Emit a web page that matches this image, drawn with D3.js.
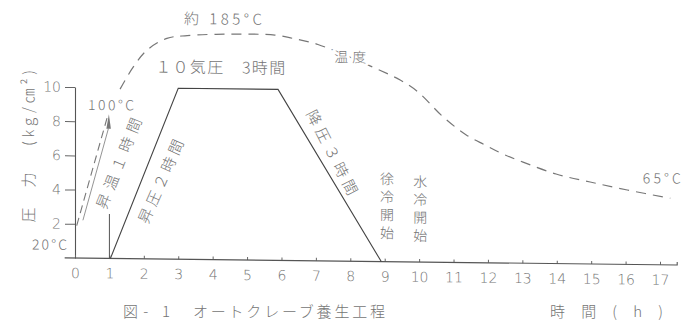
<!DOCTYPE html>
<html>
<head>
<meta charset="utf-8">
<script src="https://cdn.jsdelivr.net/npm/d3@7"></script>
<style>
  html, body { margin: 0; padding: 0; background: #fff; }
  svg { display: block; }
  text { font-family: "Noto Sans CJK JP", "Noto Sans", sans-serif; fill: #747474; font-weight: 300; }
</style>
</head>
<body>
<svg id="chart" width="692" height="323"></svg>
<script>
// time axis (hours)
const hourTicks = d3.range(0, 18);
// pressure axis ticks (kg/cm2)
const pressureTicks = [2, 4, 6, 8, 10];
// autoclave pressure schedule: [hour, kg/cm2]
const pressureSchedule = [[1.03, 0], [3, 10], [5.9, 10], [8.9, 0]];
// short marker where pressurisation begins: [hour, kg/cm2]
const startMarker = [[1, 0], [1, 2.6]];
// temperature rise in the first hour: [hour, °C]
const heatingRise = [[0.05, 20], [0.93, 100]];
// solid guide beside the rise, ending in an arrow: [hour, °C]
const heatingGuide = [[0.23, 27], [0.97, 95]];
// temperature course after the rise: [hour, °C]
const temperatureCourse = [
  [1.31, 129], [1.69, 151], [2.09, 168], [2.67, 180], [3.26, 183], [4.5, 185],
  [5.81, 184.5], [6.31, 181.6], [7.06, 175.7], [8.81, 151.5], [9.45, 141.3],
  [9.97, 129.6], [10.70, 105.1], [11.37, 94], [11.92, 89.3], [12.44, 85.1],
  [13.02, 81.4], [13.98, 75.9], [14.97, 72.3], [16.05, 68.7], [17.3, 65]
];
// labelled temperatures (°C) and the height each sits at on the pressure axis
const tempMarks = [20, 65, 100, 185];
const tempLevels = [1.9, 3.9, 8.2, 13.2];

const svg = d3.select("#chart");

const x = d3.scaleLinear().domain([0, 17]).range([75, 660]);
const y = d3.scaleLinear().domain([0, 10]).range([258, 87]);
// temperature is drawn schematically, pinned at the labelled values
const tY = d3.scaleLinear().domain(tempMarks).range(tempLevels.map(y));

// the drawing's baseline runs slightly downhill to the right
const g = svg.append("g")
  .attr("transform", `translate(${x(0)},${y(0)}) skewY(0.67) translate(${-x(0)},${-y(0)})`);

// ---- axes ----
const yAxis = g.append("g")
  .attr("transform", `translate(${x(0)},0)`)
  .call(d3.axisLeft(y).tickValues(pressureTicks).tickSize(10).tickSizeOuter(0).tickPadding(4));
yAxis.select(".domain").attr("stroke", "#555").attr("stroke-width", 1.1);
yAxis.selectAll(".tick line").attr("stroke", "#666");
yAxis.selectAll(".tick text").attr("font-size", 14).attr("fill", "#7a7a7a")
  .style("font-family", "'DejaVu Sans', sans-serif").style("font-weight", 300);

const xAxis = g.append("g")
  .attr("transform", `translate(0,${y(0)})`)
  .call(d3.axisBottom(x).tickValues(hourTicks).tickSize(-3).tickPadding(10));
xAxis.select(".domain").remove();
xAxis.selectAll(".tick line").attr("stroke", "#666");
xAxis.selectAll(".tick text").attr("font-size", 14).attr("fill", "#7a7a7a")
  .style("font-family", "'DejaVu Sans', sans-serif").style("font-weight", 300);
g.append("path")
  .attr("d", `M${x(-0.3)},${y(0)}H${x(17.5)}V${y(0) - 3}`)
  .attr("fill", "none").attr("stroke", "#555").attr("stroke-width", 1.1);

// ---- pressure schedule ----
const pLine = d3.line().x(d => x(d[0])).y(d => y(d[1]));
g.append("path").attr("d", pLine(pressureSchedule))
  .attr("fill", "none").attr("stroke", "#444").attr("stroke-width", 1.1);
g.append("path").attr("d", pLine(startMarker))
  .attr("fill", "none").attr("stroke", "#555").attr("stroke-width", 1);

// ---- temperature ----
const tLine = d3.line().x(d => x(d[0])).y(d => tY(d[1]));
const tCurve = d3.line().x(d => x(d[0])).y(d => tY(d[1])).curve(d3.curveCatmullRom.alpha(0.5));
g.append("path").attr("d", tLine(heatingRise))
  .attr("fill", "none").attr("stroke", "#777").attr("stroke-width", 1.1)
  .attr("stroke-dasharray", "8,5");
g.append("path").attr("d", tLine(heatingGuide))
  .attr("fill", "none").attr("stroke", "#888").attr("stroke-width", 0.9);
const tip = heatingGuide[1];
g.append("path")
  .attr("d", `M${x(tip[0]) - 2},${tY(tip[1])}L${x(tip[0]) + 0.5},${tY(104)}L${x(tip[0]) + 2.5},${tY(tip[1])}Z`)
  .attr("fill", "#777");
g.append("path").attr("d", tCurve(temperatureCourse))
  .attr("fill", "none").attr("stroke", "#777").attr("stroke-width", 1.2)
  .attr("stroke-dasharray", "10,7");

// ---- annotations ----
const note = (txt, px, py, size, opts = {}) => {
  const t = g.append("text").attr("x", px).attr("y", py)
    .attr("font-size", size).attr("dominant-baseline", "central")
    .attr("text-anchor", opts.anchor || "start").text(txt);
  if (opts.len) t.attr("textLength", opts.len).attr("lengthAdjust", "spacing");
  if (opts.halo) t.attr("stroke", "#fff").attr("stroke-width", 6).attr("paint-order", "stroke");
  return t;
};

note("約 185°C", x(4.3), tY(185) - 16, 15, { anchor: "middle", len: 78 });
note("１０気圧　3時間", x(2.33), y(10) - 22.5, 16, { len: 130 });
note("温度", x(8.0), 53, 14, { anchor: "middle", halo: true, len: 32 });
note("100°C", x(1.05), tY(100) - 14, 14, { anchor: "middle", len: 46, halo: true });
note("20°C", x(0) - 8, tY(20) + 18.5, 14, { anchor: "end", len: 35 });
note("65°C", x(16.5), tY(65) - 20.7, 14, { len: 38 });

// labels running along the sloped segments
const slanted = [
  { txt: "昇温１時間", cx: 118, cy: 162.5, angle: -68.2, len: 97 },
  { txt: "昇圧２時間", cx: 160, cy: 180, angle: -66.3, len: 90 },
  { txt: "降圧３時間", cx: 333, cy: 149, angle: 62.6, len: 93 }
];
g.selectAll("text.slant").data(slanted).join("text")
  .attr("class", "slant")
  .attr("transform", d => `translate(${d.cx},${d.cy}) rotate(${d.angle})`)
  .attr("text-anchor", "middle").attr("dominant-baseline", "central")
  .attr("font-size", 15)
  .attr("textLength", d => d.len).attr("lengthAdjust", "spacing")
  .text(d => d.txt);

// vertical notes on the cooling stages, set in vertical writing mode
const stacked = [
  { txt: "徐冷開始", hour: 9.07, top: 168 },
  { txt: "水冷開始", hour: 10.03, top: 170.5 }
];
stacked.forEach(s => {
  g.append("text")
    .attr("x", x(s.hour)).attr("y", s.top)
    .style("writing-mode", "vertical-rl")
    .style("text-orientation", "upright")
    .style("letter-spacing", "4px")
    .attr("font-size", 14)
    .text(s.txt);
});

// pressure axis title, reading bottom to top
const yTitle = [
  { txt: "圧", cy: 215, len: null },
  { txt: "力", cy: 180, len: null },
  { txt: "(kg/㎝²)", cy: 108, len: 76 }
];
yTitle.forEach(d => {
  const t = svg.append("text")
    .attr("transform", `translate(27,${d.cy}) rotate(-90)`)
    .attr("text-anchor", "middle").attr("dominant-baseline", "central")
    .attr("font-size", 15).text(d.txt);
  if (d.len) t.attr("textLength", d.len).attr("lengthAdjust", "spacing");
});

// caption and time-axis title
svg.append("text").attr("x", 123).attr("y", 310).attr("dominant-baseline", "central")
  .attr("font-size", 15).attr("textLength", 47).attr("lengthAdjust", "spacing").text("図- 1");
svg.append("text").attr("x", 193).attr("y", 310).attr("dominant-baseline", "central")
  .attr("font-size", 15).attr("textLength", 192).attr("lengthAdjust", "spacing").text("オートクレーブ養生工程");
svg.append("text").attr("x", 550).attr("y", 310).attr("dominant-baseline", "central")
  .attr("font-size", 15).attr("textLength", 113).attr("lengthAdjust", "spacing").text("時　間　(　h　)");
</script>
</body>
</html>
